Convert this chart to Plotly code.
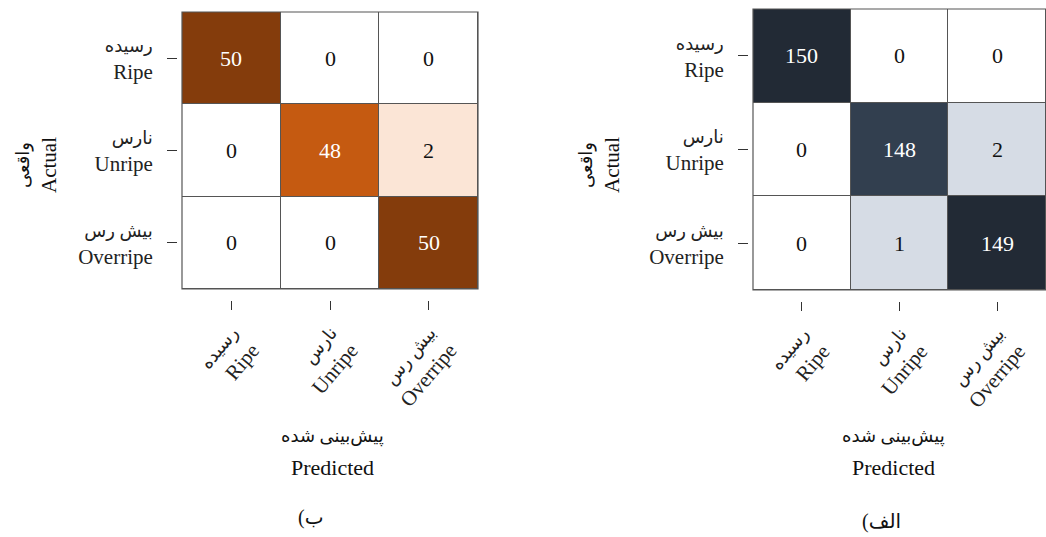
import plotly.graph_objects as go

# Class labels (Persian over English)
classes_fa = ["رسیده", "نارس", "بیش رس"]
classes_en = ["Ripe", "Unripe", "Overripe"]
labels = [f"{fa}<br>{en}" for fa, en in zip(classes_fa, classes_en)]

# Confusion matrices: rows = actual, columns = predicted
cm_b = [
    [50, 0, 0],
    [0, 48, 2],
    [0, 0, 50],
]
cm_alef = [
    [150, 0, 0],
    [0, 148, 2],
    [0, 1, 149],
]

# Panel letters, wrapped in a left-to-right embedding so the bracket sits on the left
panel_b = "\u202A(ب\u202C"
panel_alef = "\u202A(الف\u202C"
x_title_fa = "پیش‌بینی شده"
x_title_en = "Predicted"
y_title_fa = "واقعی"
y_title_en = "Actual"

FONT = "Liberation Serif, Times New Roman, DejaVu Serif, DejaVu Sans"
FA = 18   # Persian glyphs run wide in the fallback face
EN = 21
W, H = 1046, 537


def fa_span(s, size=FA):
    return f'<span style="font-size:{size}px">{s}</span>'


tick_text = [f"{fa_span(fa)}<br>{en}" for fa, en in zip(classes_fa, classes_en)]

scale_b = [
    [0.0, "#ffffff"],
    [2 / 50, "#fbe5d6"],
    [48 / 50, "#c55a11"],
    [1.0, "#843c0c"],
]
scale_alef = [
    [0.0, "#ffffff"],
    [1 / 150, "#d6dce5"],
    [2 / 150, "#d6dce5"],
    [148 / 150, "#323f4f"],
    [149 / 150, "#222a35"],
    [1.0, "#222a35"],
]

fig = go.Figure()

panels = [
    dict(cm=cm_b, scale=scale_b, zmax=50, xa="x", ya="y", dark=40,
         px=(182, 478), py=(12, 289), title=panel_b, tx=311, ty=517,
         xt=332, ytx=37),
    dict(cm=cm_alef, scale=scale_alef, zmax=150, xa="x2", ya="y2", dark=100,
         px=(753, 1046), py=(9, 290), title=panel_alef, tx=881, ty=521,
         xt=893, ytx=600),
]


def note(x, y, text, size, **kw):
    fig.add_annotation(x=x / W, y=1 - y / H, xref="paper", yref="paper",
                       text=text, showarrow=False, xanchor="center",
                       yanchor="middle",
                       font=dict(family=FONT, size=size, color="#111111"), **kw)


for i, p in enumerate(panels):
    fig.add_trace(go.Heatmap(
        z=p["cm"], x=labels, y=labels,
        colorscale=p["scale"], zmin=0, zmax=p["zmax"],
        showscale=False, xgap=1, ygap=1, hoverinfo="skip",
        xaxis=p["xa"], yaxis=p["ya"],
    ))
    # cell values
    for r, row in enumerate(p["cm"]):
        for c, v in enumerate(row):
            fig.add_annotation(
                x=labels[c], y=labels[r], xref=p["xa"], yref=p["ya"],
                text=str(v), showarrow=False,
                font=dict(family=FONT, size=22,
                          color="#ffffff" if v >= p["dark"] else "#111111"),
            )

    x0, x1 = p["px"]
    y0, y1 = p["py"]
    xd = [x0 / W, x1 / W]
    yd = [1 - y1 / H, 1 - y0 / H]
    sfx = "" if i == 0 else str(i + 1)
    fig.layout["xaxis" + sfx] = dict(
        domain=xd, anchor="free", position=1 - (y1 + 11) / H,
        tickvals=labels, ticktext=tick_text,
        ticks="outside", ticklen=9, tickwidth=1, tickcolor="#333333",
        tickangle=-50, showgrid=False, zeroline=False, showline=False,
        tickfont=dict(family=FONT, size=EN, color="#222222"),
        ticklabelstandoff=2, fixedrange=True,
    )
    fig.layout["yaxis" + sfx] = dict(
        domain=yd, anchor="free", position=(x0 - 5) / W,
        autorange="reversed",
        tickvals=labels, ticktext=tick_text,
        ticks="outside", ticklen=10, tickwidth=1, tickcolor="#333333",
        showgrid=False, zeroline=False, showline=False,
        tickfont=dict(family=FONT, size=EN, color="#222222"),
        ticklabelstandoff=10, fixedrange=True,
    )
    # frame around the matrix
    fig.add_shape(type="rect", xref=p["xa"] + " domain", yref=p["ya"] + " domain",
                  x0=0, x1=1, y0=0, y1=1, line=dict(color="#555555", width=1.2))

    # axis titles and panel label
    note(p["xt"], 436, x_title_fa, FA)
    note(p["xt"], 467, x_title_en, 22)
    note(p["ytx"], 165, f"{fa_span(y_title_fa)}<br>{y_title_en}", EN,
         textangle=-90)
    note(p["tx"], p["ty"], p["title"], 20)

fig.update_layout(
    width=W, height=H,
    margin=dict(l=0, r=0, t=0, b=0),
    paper_bgcolor="#ffffff",
    plot_bgcolor="#555555",
    showlegend=False,
)

fig.write_html("out.html")
